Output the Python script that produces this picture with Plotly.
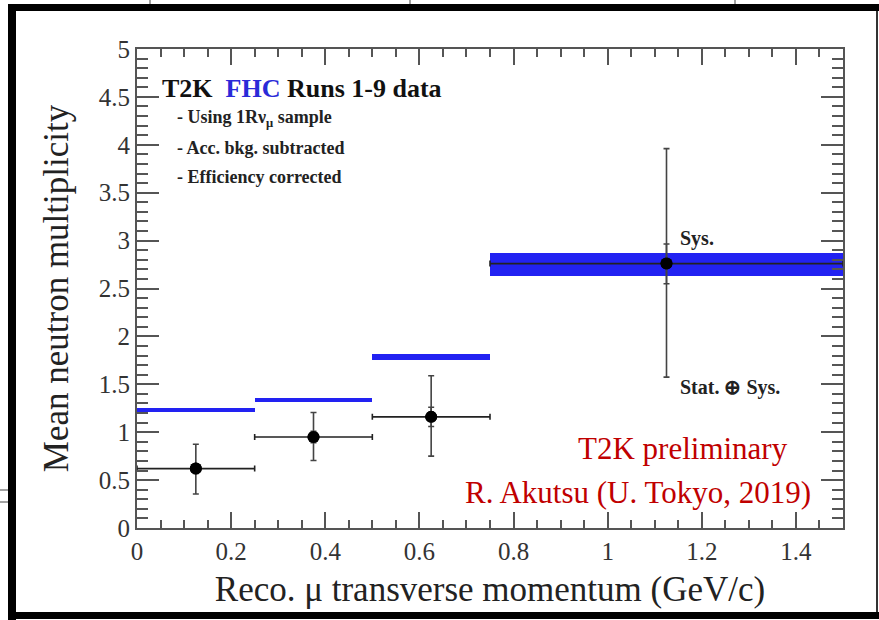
import plotly.graph_objects as go

# Reconstructed muon transverse momentum bins (GeV/c)
bin_lo = [0.0, 0.25, 0.5, 0.75]
bin_hi = [0.25, 0.5, 0.75, 1.5]

# Measured mean neutron multiplicity with Stat.+Sys. errors
data_mean = [0.62, 0.95, 1.16, 2.76]
tot_err_up = [0.255, 0.255, 0.43, 1.20]
tot_err_dn = [0.265, 0.245, 0.41, 1.185]
# Systematic part only
sys_err_up = [0.05, 0.06, 0.10, 0.205]
sys_err_dn = [0.05, 0.06, 0.10, 0.21]

# Prediction (blue band): central value and half-width
pred_mean = [1.23, 1.335, 1.785, 2.755]
pred_err = [0.022, 0.022, 0.03, 0.12]

x_ticks = [0, 0.2, 0.4, 0.6, 0.8, 1, 1.2, 1.4]
x_tick_text = ["0", "0.2", "0.4", "0.6", "0.8", "1", "1.2", "1.4"]
y_ticks = [0, 0.5, 1, 1.5, 2, 2.5, 3, 3.5, 4, 4.5, 5]
y_tick_text = ["0", "0.5", "1", "1.5", "2", "2.5", "3", "3.5", "4", "4.5", "5"]

centers = [(a + b) / 2 for a, b in zip(bin_lo, bin_hi)]
widths = [b - a for a, b in zip(bin_lo, bin_hi)]
half_w = [w / 2 for w in widths]

BLUE = "#2222f2"
SERIF = "Liberation Serif, Times New Roman, serif"
AXIS_GRAY = "#555555"

W, H = 879, 620
L, R, T, B = 137, 36, 49, 92

fig = go.Figure()

# Prediction band
fig.add_trace(go.Bar(
    x=centers,
    y=[2 * e for e in pred_err],
    base=[m - e for m, e in zip(pred_mean, pred_err)],
    width=widths,
    marker=dict(color=BLUE, line=dict(width=0)),
    showlegend=False,
    hoverinfo="skip",
))

# Data: total error
fig.add_trace(go.Scatter(
    x=centers, y=data_mean, mode="markers",
    marker=dict(color="black", size=12),
    error_x=dict(type="data", array=half_w, symmetric=True,
                 color="#222222", thickness=1.6, width=3),
    error_y=dict(type="data", array=tot_err_up, arrayminus=tot_err_dn,
                 symmetric=False, color="#444444", thickness=1.6, width=3),
    showlegend=False,
))

# Data: systematic-only ticks
fig.add_trace(go.Scatter(
    x=centers, y=data_mean, mode="markers",
    marker=dict(color="black", size=12),
    error_y=dict(type="data", array=sys_err_up, arrayminus=sys_err_dn,
                 symmetric=False, color="#444444", thickness=1.6, width=3),
    showlegend=False,
))

axis_common = dict(
    showline=True, linecolor=AXIS_GRAY, linewidth=2, mirror="allticks",
    ticks="inside", tickcolor=AXIS_GRAY, tickwidth=1.5,
    showgrid=False, zeroline=False,
    tickfont=dict(family=SERIF, size=25, color="#333333"),
)

fig.update_xaxes(
    range=[0, 1.5], tickvals=x_ticks, ticktext=x_tick_text, ticklen=16,
    minor=dict(ticks="inside", dtick=0.05, tick0=0, ticklen=8,
               tickcolor=AXIS_GRAY, tickwidth=1.5, showgrid=False),
    title=dict(text="Reco. \u03bc transverse momentum (GeV/c)",
               font=dict(family=SERIF, size=35, color="#222222"), standoff=12),
    **axis_common,
)
fig.update_yaxes(
    range=[0, 5], tickvals=y_ticks, ticktext=y_tick_text, ticklen=22,
    minor=dict(ticks="inside", dtick=0.1, tick0=0, ticklen=11,
               tickcolor=AXIS_GRAY, tickwidth=1.5, showgrid=False),
    title=dict(text="Mean neutron multiplicity",
               font=dict(family=SERIF, size=35, color="#222222"), standoff=20),
    **axis_common,
)


def px(x):
    return (x - L) / (W - L - R)


def py(y):
    return (H - B - y) / (H - T - B)


NOTE = dict(family=SERIF, size=18, color="#222222")

annotations = [
    dict(x=0.048, y=4.59, xref="x", yref="y", xanchor="left", yanchor="middle",
         text="<b>T2K  <span style='color:#2a2ad8'>FHC</span> Runs 1-9 data</b>",
         font=dict(family=SERIF, size=26, color="#111111"), showarrow=False),
    dict(x=0.08, y=4.27, xref="x", yref="y", xanchor="left", yanchor="middle",
         text="<b>- Using 1R\u03bd<sub>\u03bc</sub> sample</b>",
         font=NOTE, showarrow=False),
    dict(x=0.08, y=3.97, xref="x", yref="y", xanchor="left", yanchor="middle",
         text="<b>- Acc. bkg. subtracted</b>", font=NOTE, showarrow=False),
    dict(x=0.08, y=3.66, xref="x", yref="y", xanchor="left", yanchor="middle",
         text="<b>- Efficiency corrected</b>", font=NOTE, showarrow=False),
    dict(x=1.15, y=3.02, xref="x", yref="y", xanchor="left", yanchor="middle",
         text="<b>Sys.</b>", font=dict(family=SERIF, size=20, color="#222222"),
         showarrow=False),
    dict(x=1.15, y=1.47, xref="x", yref="y", xanchor="left", yanchor="middle",
         text="<b>Stat. \u2295 Sys.</b>",
         font=dict(family=SERIF, size=20, color="#222222"), showarrow=False),
    dict(x=px(790), y=py(448), xref="paper", yref="paper", xanchor="right",
         yanchor="middle", text="T2K preliminary",
         font=dict(family=SERIF, size=31, color="#c00000"), showarrow=False),
    dict(x=px(813), y=py(492), xref="paper", yref="paper", xanchor="right",
         yanchor="middle", text="R. Akutsu (U. Tokyo, 2019)",
         font=dict(family=SERIF, size=31, color="#c00000"), showarrow=False),
]


def rect(x0, y0, x1, y1, color="black"):
    return dict(type="rect", xref="paper", yref="paper",
                x0=px(x0), x1=px(x1), y0=py(y1), y1=py(y0),
                fillcolor=color, line=dict(width=0), layer="above")


def line(x0, y0, x1, y1, color="black", width=1):
    return dict(type="line", xref="paper", yref="paper",
                x0=px(x0), x1=px(x1), y0=py(y0), y1=py(y1),
                line=dict(color=color, width=width), layer="above")


shapes = [
    rect(8, 4, 879, 11),      # top bar
    rect(8, 4, 16, 620),      # left bar
    rect(8, 612, 879, 619),   # bottom bar
    rect(876, 11, 878, 612, "#333333"),  # right edge
    line(150, 0, 150, 4, "#444444"),
    line(410, 0, 410, 4, "#444444"),
    line(735, 0, 735, 4, "#444444"),
    line(0, 490, 8, 490, "#444444"),
    line(0, 502, 8, 502, "#444444"),
]

fig.update_layout(
    width=W, height=H,
    margin=dict(l=L, r=R, t=T, b=B),
    paper_bgcolor="white", plot_bgcolor="white",
    annotations=annotations, shapes=shapes,
    bargap=0, showlegend=False,
)

fig.write_html("out.html")
